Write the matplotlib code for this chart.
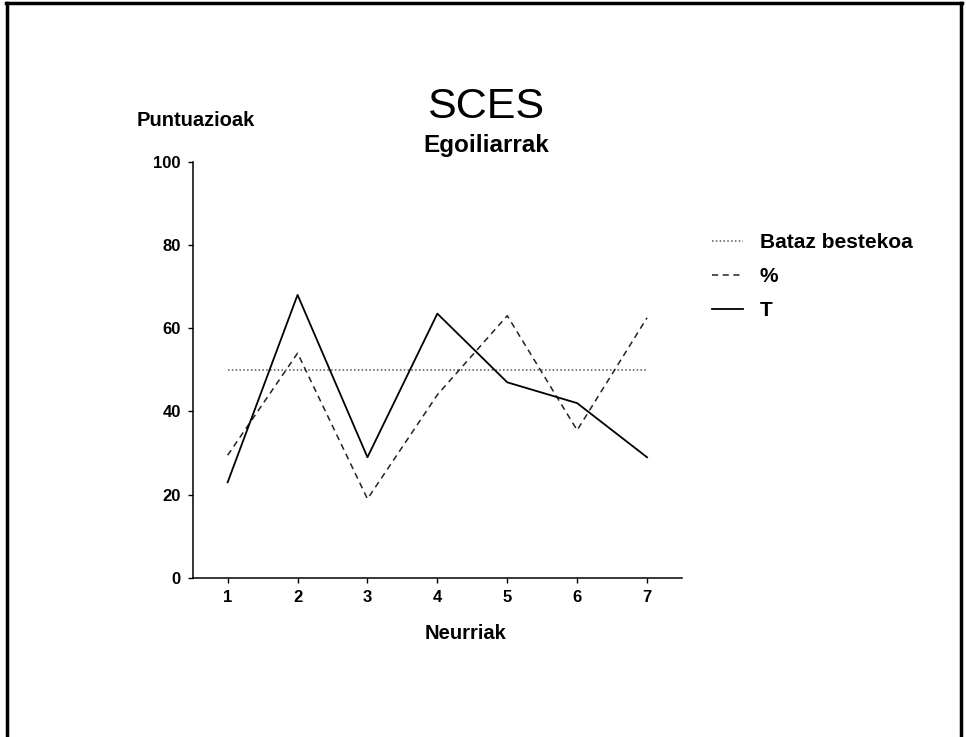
import matplotlib
matplotlib.use("Agg")
import matplotlib.pyplot as plt

plt.rcParams['font.family'] = ['Liberation Sans', 'DejaVu Sans']

# Data
neurriak = [1, 2, 3, 4, 5, 6, 7]
bataz_bestekoa = [50, 50, 50, 50, 50, 50, 50]
ehunekoa = [29.5, 54, 19, 44, 63, 35.5, 62.5]
t_puntuak = [23, 68, 29, 63.5, 47, 42, 29]
y_ticks = [0, 20, 40, 60, 80, 100]

fig = plt.figure(figsize=(9.66, 7.37), dpi=100)
ax = fig.add_axes([0.1995, 0.2157, 0.5065, 0.565])

l1, = ax.plot(neurriak, bataz_bestekoa, color='#555555', linestyle=(0, (1, 1.5)), linewidth=1.1)
l2, = ax.plot(neurriak, ehunekoa, color='#222222', linestyle=(0, (4, 3)), linewidth=1.1)
l3, = ax.plot(neurriak, t_puntuak, color='black', linestyle='-', linewidth=1.3)

ax.set_xlim(0.5, 7.5)
ax.set_ylim(0, 100)
ax.set_xticks(neurriak)
ax.set_yticks(y_ticks)
ax.tick_params(direction='out', length=3.5, width=1, pad=5, labelsize=12)
for lab in ax.get_xticklabels() + ax.get_yticklabels():
    lab.set_fontweight('bold')
ax.spines['top'].set_visible(False)
ax.spines['right'].set_visible(False)
ax.spines['left'].set_linewidth(1.1)
ax.spines['bottom'].set_linewidth(1.1)

fig.text(0.503, 0.855, 'SCES', ha='center', va='center', fontsize=31)
fig.text(0.503, 0.803, 'Egoiliarrak', ha='center', va='center', fontsize=17.5, fontweight='bold')
fig.text(0.141, 0.837, 'Puntuazioak', ha='left', va='center', fontsize=14.5, fontweight='bold')
fig.text(0.482, 0.141, 'Neurriak', ha='center', va='center', fontsize=14.5, fontweight='bold')

fig.legend([l1, l2, l3], ['Bataz bestekoa', '%', 'T'],
           loc='upper left', bbox_to_anchor=(0.7176, 0.709), frameon=False,
           prop={'size': 15, 'weight': 'bold'}, handlelength=1.5,
           handletextpad=0.8, labelspacing=0.72)

# frame around the page (no bottom edge)
fig.add_artist(plt.Line2D([0.007, 0.007], [0, 0.996], color='black', linewidth=2.5, transform=fig.transFigure))
fig.add_artist(plt.Line2D([0.006, 0.996], [0.996, 0.996], color='black', linewidth=2.5, transform=fig.transFigure))
fig.add_artist(plt.Line2D([0.995, 0.995], [0, 0.996], color='black', linewidth=2.5, transform=fig.transFigure))

fig.savefig('out.png', dpi=100)
